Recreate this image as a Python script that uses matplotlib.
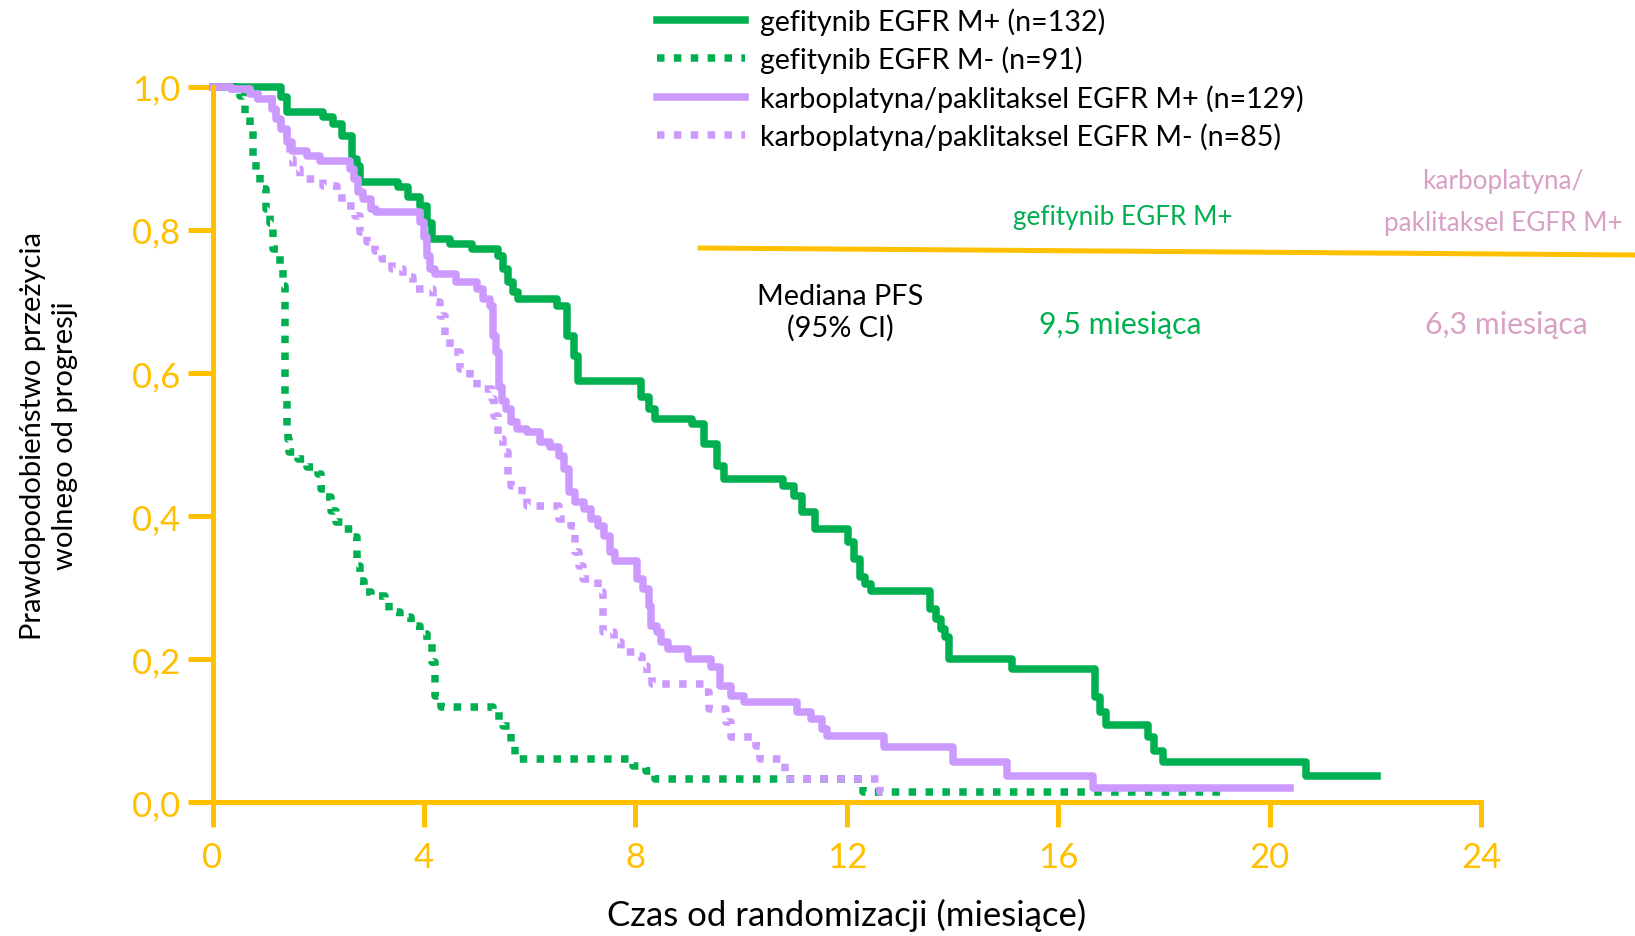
import matplotlib
matplotlib.use('Agg')
import matplotlib.pyplot as plt
from matplotlib.lines import Line2D

plt.rcParams['font.family'] = ['Lato', 'DejaVu Sans']

GREEN = '#00B050'
LILAC = '#CC99FF'
GOLD = '#FFC000'
PINK = '#D9A0C6'

# gefitynib EGFR M+ (step times in months, survival after the step)
gef_pos_t = [0, 1.30, 1.40, 2.09, 2.28, 2.45, 2.64, 2.73, 2.79, 3.51, 3.70, 3.93, 4.06, 4.15,
             4.49, 4.91, 5.40, 5.50, 5.58, 5.68, 5.78, 6.52, 6.70, 6.83, 6.92, 8.10, 8.25, 8.37,
             9.07, 9.30, 9.55, 9.68, 10.80, 11.00, 11.15, 11.40, 12.02, 12.14, 12.25, 12.35, 12.45,
             13.58, 13.68, 13.78, 13.85, 13.94, 15.13, 16.70, 16.78, 16.91, 17.70, 17.80, 17.97,
             20.68, 22.02]
gef_pos_s = [1.0, 0.985, 0.965, 0.957, 0.948, 0.931, 0.899, 0.889, 0.867, 0.859, 0.846, 0.833, 0.81, 0.787,
             0.780, 0.773, 0.763, 0.745, 0.727, 0.713, 0.703, 0.693, 0.651, 0.623, 0.588, 0.566, 0.549, 0.535,
             0.528, 0.50, 0.47, 0.451, 0.442, 0.428, 0.405, 0.382, 0.363, 0.34, 0.315, 0.305, 0.295,
             0.27, 0.256, 0.242, 0.231, 0.20, 0.186, 0.147, 0.126, 0.108, 0.091, 0.071, 0.056,
             0.036, 0.036]

# gefitynib EGFR M-
gef_neg_t = [0, 0.52, 0.62, 0.70, 0.76, 0.82, 0.90, 1.02, 1.09, 1.15, 1.27, 1.33, 1.37, 1.40, 1.42,
             1.45, 1.62, 1.78, 2.00, 2.05, 2.15, 2.25, 2.33, 2.48, 2.65, 2.74, 2.78, 2.86, 3.00, 3.27,
             3.34, 3.55, 3.76, 3.93, 4.05, 4.15, 4.20, 4.32, 5.30, 5.50, 5.65, 5.72, 7.95, 8.20, 8.37,
             12.30, 19.05]
gef_neg_s = [1.0, 0.987, 0.96, 0.94, 0.90, 0.88, 0.857, 0.829, 0.81, 0.773, 0.745, 0.721, 0.56, 0.526, 0.507,
             0.489, 0.479, 0.468, 0.458, 0.437, 0.426, 0.407, 0.391, 0.382, 0.370, 0.33, 0.309, 0.293, 0.288, 0.281,
             0.266, 0.259, 0.246, 0.235, 0.224, 0.196, 0.148, 0.133, 0.120, 0.106, 0.084, 0.060, 0.050, 0.044, 0.032,
             0.014, 0.014]

# karboplatyna/paklitaksel EGFR M+
carb_pos_t = [0, 0.35, 0.70, 0.86, 1.12, 1.20, 1.30, 1.40, 1.50, 1.78, 2.03, 2.60, 2.68, 2.75, 2.85,
              3.00, 3.10, 3.93, 4.00, 4.06, 4.12, 4.20, 4.61, 5.00, 5.12, 5.25, 5.31, 5.36, 5.42, 5.48,
              5.55, 5.65, 5.76, 5.94, 6.20, 6.39, 6.55, 6.65, 6.74, 6.86, 7.02, 7.15, 7.30, 7.40, 7.52,
              7.62, 8.03, 8.15, 8.26, 8.30, 8.40, 8.48, 8.62, 9.00, 9.42, 9.60, 9.80, 10.05, 11.05,
              11.32, 11.52, 11.62, 12.71, 14.01, 15.03, 16.66, 20.38]
carb_pos_s = [1.0, 0.997, 0.99, 0.983, 0.969, 0.955, 0.941, 0.922, 0.910, 0.903, 0.896, 0.885, 0.871, 0.853, 0.843,
              0.829, 0.825, 0.811, 0.79, 0.763, 0.745, 0.738, 0.727, 0.717, 0.703, 0.693, 0.651, 0.629, 0.58, 0.56,
              0.549, 0.531, 0.521, 0.517, 0.503, 0.496, 0.484, 0.465, 0.433, 0.419, 0.41, 0.396, 0.386, 0.372, 0.349,
              0.337, 0.312, 0.298, 0.274, 0.246, 0.238, 0.224, 0.214, 0.20, 0.189, 0.162, 0.148, 0.140, 0.126,
              0.116, 0.102, 0.092, 0.077, 0.056, 0.036, 0.020, 0.020]

# karboplatyna/paklitaksel EGFR M-
carb_neg_t = [0, 0.35, 0.70, 0.86, 1.20, 1.30, 1.40, 1.46, 1.52, 1.65, 2.09, 2.35, 2.45, 2.69, 2.79,
              2.92, 3.07, 3.20, 3.39, 3.60, 3.79, 4.17, 4.30, 4.40, 4.49, 4.68, 4.87, 5.00, 5.28, 5.32,
              5.40, 5.50, 5.58, 5.65, 5.86, 5.94, 6.55, 6.78, 6.86, 6.93, 7.00, 7.30, 7.38, 7.60, 7.72,
              8.00, 8.12, 8.22, 8.32, 9.30, 9.40, 9.72, 9.80, 10.28, 10.35, 10.82, 12.62, 12.75]
carb_neg_s = [1.0, 0.997, 0.99, 0.983, 0.962, 0.945, 0.931, 0.899, 0.885, 0.871, 0.861, 0.85, 0.833, 0.819, 0.797,
              0.783, 0.770, 0.759, 0.745, 0.734, 0.717, 0.699, 0.679, 0.651, 0.629, 0.605, 0.591, 0.577, 0.563, 0.540,
              0.507, 0.489, 0.456, 0.442, 0.428, 0.414, 0.396, 0.386, 0.349, 0.33, 0.312, 0.293, 0.238, 0.224, 0.21,
              0.204, 0.19, 0.176, 0.165, 0.154, 0.13, 0.112, 0.091, 0.078, 0.06, 0.032, 0.014, 0.014]

labels = ['gefitynib EGFR M+ (n=132)', 'gefitynib EGFR M- (n=91)',
          'karboplatyna/paklitaksel EGFR M+ (n=129)', 'karboplatyna/paklitaksel EGFR M- (n=85)']
x_ticks = [0, 4, 8, 12, 16, 20, 24]
y_ticks = [0.0, 0.2, 0.4, 0.6, 0.8, 1.0]
y_ticklabels = ['0,0', '0,2', '0,4', '0,6', '0,8', '1,0']

fig = plt.figure(figsize=(16.35, 9.37), dpi=100)
ax = fig.add_axes([0.130, 0.143, 0.776, 0.7635])

dots = (0, (1, 1.25))
lw = 5.4
h1, = ax.plot(gef_pos_t, gef_pos_s, drawstyle='steps-post', color=GREEN, lw=lw, clip_on=False)
h2, = ax.plot(gef_neg_t, gef_neg_s, drawstyle='steps-post', color=GREEN, lw=lw, ls=dots, clip_on=False)
h3, = ax.plot(carb_pos_t, carb_pos_s, drawstyle='steps-post', color=LILAC, lw=lw, clip_on=False)
h4, = ax.plot(carb_neg_t, carb_neg_s, drawstyle='steps-post', color=LILAC, lw=lw, ls=dots, clip_on=False)

ax.set_xlim(0, 24)
ax.set_ylim(0, 1.0)
for s in ['top', 'right']:
    ax.spines[s].set_visible(False)
for s in ['left', 'bottom']:
    ax.spines[s].set_color(GOLD)
    ax.spines[s].set_linewidth(3.6)
ax.set_xticks(x_ticks)
ax.set_xticklabels([str(v) for v in x_ticks])
ax.set_yticks(y_ticks)
ax.set_yticklabels(y_ticklabels)
ax.tick_params(axis='both', colors=GOLD, labelcolor=GOLD, labelsize=25, width=3.6, length=18, direction='out')
ax.tick_params(axis='x', pad=10)
ax.tick_params(axis='y', pad=5)

ax.set_xlabel('Czas od randomizacji (miesiące)', fontsize=25, labelpad=18)
ax.set_ylabel('Prawdopodobieństwo przeżycia\nwolnego od progresji', fontsize=21, labelpad=39, linespacing=1.3)
ax.yaxis.label.set_y(0.513)

leg = fig.legend([h1, h2, h3, h4], labels, loc='upper left', bbox_to_anchor=(0.402, 0.9915),
                 frameon=False, fontsize=20.6, handlelength=3.08, handletextpad=0.51, labelspacing=0.38,
                 borderaxespad=0.0, borderpad=0.0)

# median PFS table
fig.add_artist(Line2D([700 / 1635, 1.0], [1 - 249 / 937, 1 - 256 / 937], transform=fig.transFigure,
                      color=GOLD, lw=3.6))
fig.text(1123 / 1635, 1 - 217 / 937, 'gefitynib EGFR M+', color=GREEN, fontsize=18.8, ha='center', va='center')
fig.text(1503 / 1635, 1 - 202 / 937, 'karboplatyna/\npaklitaksel EGFR M+', color=PINK, fontsize=18.8,
         ha='center', va='center', linespacing=1.85)
fig.text(840 / 1635, 1 - 313 / 937, 'Mediana PFS\n(95% CI)', color='black', fontsize=20.8,
         ha='center', va='center', linespacing=1.2)
fig.text(1120 / 1635, 1 - 325 / 937, '9,5 miesiąca', color=GREEN, fontsize=21.7, ha='center', va='center')
fig.text(1506 / 1635, 1 - 325 / 937, '6,3 miesiąca', color=PINK, fontsize=21.7, ha='center', va='center')

fig.savefig('out.png', dpi=100)
